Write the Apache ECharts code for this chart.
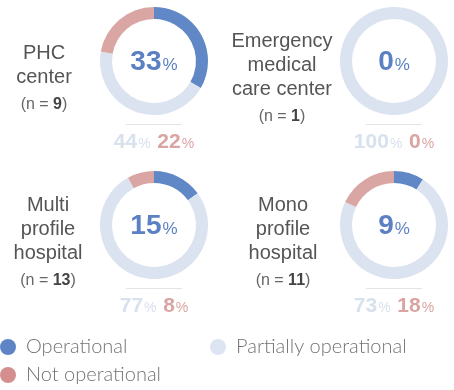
<!DOCTYPE html>
<html><head><meta charset="utf-8">
<script src="https://cdn.jsdelivr.net/npm/echarts@6/dist/echarts.min.js"></script>
<style>html,body{margin:0;padding:0;background:#fff}#c{width:454px;height:390px}</style>
</head><body><div id="c"></div>
<script>
// Facility types (label lines), sample sizes and status shares in percent
const facilityLines = [['PHC', 'center'], ['Emergency', 'medical', 'care center'], ['Multi', 'profile', 'hospital'], ['Mono', 'profile', 'hospital']];
const sampleSizes = [9, 1, 13, 11];
const operational = [33, 0, 15, 9];
const partiallyOperational = [44, 100, 77, 73];
const notOperational = [22, 0, 8, 18];
const statusNames = ['Operational', 'Partially operational', 'Not operational'];

const COLORS = ['#6088c6', '#dae3ef', '#d9a6a3'];
const LEGEND_COLORS = ['#5f84c5', '#dce5f1', '#d48e8e'];
const BLUE_TEXT = '#5b80c3';
const LIGHT_TEXT = '#d8e1ee';
const RED_TEXT = '#d9a4a1';
const FONT = '"Liberation Sans", Arial, sans-serif';

// panel layout: donut centres and label column centres
const centers = [[154, 61], [394, 61], [154, 225], [394, 225]];
const labelX = [44, 282, 48, 283];

const chart = echarts.init(document.getElementById('c'), null, { renderer: 'canvas' });

const series = [];
const graphic = [];
facilityLines.forEach((lines, i) => {
  const [cx, cy] = centers[i];
  series.push({
    type: 'pie',
    center: [cx, cy],
    radius: [42, 54],
    startAngle: 90,
    clockwise: true,
    silent: true,
    animation: false,
    label: { show: false },
    labelLine: { show: false },
    data: [
      { name: statusNames[0], value: operational[i], itemStyle: { color: COLORS[0] } },
      { name: statusNames[1], value: partiallyOperational[i], itemStyle: { color: COLORS[1] } },
      { name: statusNames[2], value: notOperational[i], itemStyle: { color: COLORS[2] } }
    ]
  });

  // centre value
  graphic.push({
    type: 'text', x: cx, y: cy + 1, silent: true,
    style: {
      text: '{a|' + operational[i] + '}{b|%}',
      align: 'center', verticalAlign: 'middle',
      rich: {
        a: { fontFamily: FONT, fontSize: 28, fontWeight: 'bold', fill: BLUE_TEXT },
        b: { fontFamily: FONT, fontSize: 17, fill: BLUE_TEXT, padding: [7, 0, 0, 1] }
      }
    }
  });

  // separator under the donut
  graphic.push({
    type: 'line', silent: true,
    shape: { x1: cx - 28, y1: cy + 63.5, x2: cx + 28, y2: cy + 63.5 },
    style: { stroke: '#e3e3e3', lineWidth: 1 }
  });

  // partially / not operational shares
  graphic.push({
    type: 'text', x: cx, y: cy + 81, silent: true,
    style: {
      text: '{p|' + partiallyOperational[i] + '}{ps|%}  {r|' + notOperational[i] + '}{rs|%}',
      align: 'center', verticalAlign: 'middle',
      rich: {
        p: { fontFamily: FONT, fontSize: 21, fontWeight: 'bold', fill: LIGHT_TEXT },
        ps: { fontFamily: FONT, fontSize: 14, fill: LIGHT_TEXT, padding: [5, 0, 0, 1] },
        r: { fontFamily: FONT, fontSize: 21, fontWeight: 'bold', fill: RED_TEXT },
        rs: { fontFamily: FONT, fontSize: 14, fill: RED_TEXT, padding: [5, 0, 0, 1] }
      }
    }
  });

  // facility name and sample size
  const lineH = 24, nGap = 27;
  const span = (lines.length - 1) * lineH + nGap;
  const top = cy + 18 - span / 2;
  lines.forEach((t, k) => {
    graphic.push({
      type: 'text', x: labelX[i], y: top + k * lineH, silent: true,
      style: { text: t, align: 'center', verticalAlign: 'middle', fontFamily: FONT, fontSize: 20, fill: '#555555' }
    });
  });
  graphic.push({
    type: 'text', x: labelX[i], y: top + (lines.length - 1) * lineH + nGap, silent: true,
    style: {
      text: '{t|(n = }{n|' + sampleSizes[i] + '}{t|)}',
      align: 'center', verticalAlign: 'middle',
      rich: {
        t: { fontFamily: FONT, fontSize: 16, fill: '#666666' },
        n: { fontFamily: FONT, fontSize: 16, fontWeight: 'bold', fill: '#444444' }
      }
    }
  });
});

const legendPos = [[0, 337], [210, 337], [0, 365]];
const legend = statusNames.map((name, k) => ({
  data: [{ name: name, itemStyle: { color: LEGEND_COLORS[k] } }],
  left: legendPos[k][0], top: legendPos[k][1],
  icon: 'circle', itemWidth: 16, itemHeight: 16, padding: 0,
  selectedMode: false,
  textStyle: { fontFamily: 'Lato, "Open Sans", sans-serif', fontSize: 20, fontWeight: 300, color: '#737373', padding: [0, 0, 0, 5] }
}));

chart.setOption({
  animation: false,
  backgroundColor: '#ffffff',
  legend: legend,
  series: series,
  graphic: graphic
});
</script>
</body></html>
